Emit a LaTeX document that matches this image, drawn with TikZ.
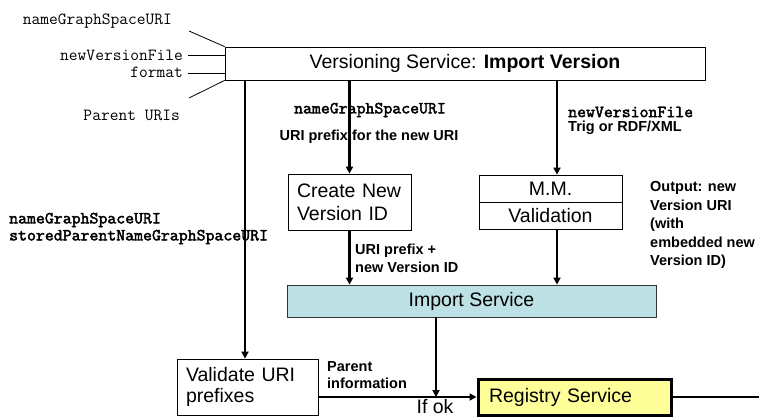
\documentclass[tikz,border=0pt]{standalone}
\usepackage{fontspec}
\setmainfont{Liberation Sans}
\newfontfamily\monoheavy{lmmono10-regular.otf}[FakeBold=2.2]
\usetikzlibrary{arrows.meta,calc}

\definecolor{importfill}{HTML}{BDE1E4}
\definecolor{regfill}{HTML}{FFFF99}

% font sizes (1 unit = 1bp)
\newcommand\mainsize{\fontsize{19.5bp}{23bp}\selectfont}
\newcommand\lblsize{\fontsize{14.5bp}{18bp}\selectfont\bfseries}
\newcommand\monosize{\fontsize{17bp}{17bp}\selectfont\ttfamily}
\newcommand\bmonosize{\fontsize{17bp}{17bp}\selectfont\monoheavy}

\tikzset{
  box/.style={draw=black, line width=0.8bp, inner sep=0pt, font=\mainsize},
  arr/.style={line width=2.6bp, -{Triangle[width=7bp,length=7bp]}},
  flow/.style={line width=2.6bp},
  feed/.style={line width=0.8bp},
  lbl/.style={inner sep=0pt, font=\lblsize, align=left},
  mono/.style={inner sep=0pt, font=\monosize, align=left},
  bmono/.style={inner sep=0pt, font=\bmonosize, align=left},
  plain/.style={inner sep=0pt, font=\mainsize},
}

\begin{document}
\begin{tikzpicture}[x=1bp,y=-1bp]
\useasboundingbox (0,0) rectangle (759,419);

% ---- boxes ----
\node[box, minimum width=480bp, minimum height=33bp] (top) at (465,63.5)
  {Versioning Service: \textbf{Import Version}};

\node[box, minimum height=56bp, text width=105bp, inner xsep=9bp, align=left,
      font=\fontsize{19.5bp}{23bp}\selectfont] (cr) at (349.5,202)
  {Create New\\Version ID};

\node[box, minimum width=143bp, minimum height=27bp] (mm) at (550.5,188.5) {M.M.};
\node[box, minimum width=143bp, minimum height=27bp] (val) at (550.5,215.5) {Validation};

\node[box, draw=black!80, fill=importfill, minimum width=369bp, minimum height=32bp]
  (imp) at (471.5,301) {Import Service};

\node[box, minimum height=56bp, text width=123bp, inner xsep=9bp, align=left,
      font=\fontsize{19.5bp}{21bp}\selectfont] (va) at (247.5,387)
  {Validate URI\\prefixes};

\node[box, line width=3bp, fill=regfill, minimum height=36bp, text width=171bp,
      inner xsep=11bp, align=left] (reg) at (574.5,397) {Registry Service};

% ---- inputs of the versioning service ----
\node[mono, anchor=east] (inA) at (172,21) {nameGraphSpaceURI};
\node[mono, anchor=east] (inB) at (183,55) {newVersionFile};
\node[mono, anchor=east] (inC) at (183,72) {format};
\node[mono, anchor=east] (inD) at (180,115) {Parent URIs};

\coordinate (fA) at (189,31);
\coordinate (fB) at (188,55);
\coordinate (fC) at (188,73);
\coordinate (fD) at (189,98);
\draw[feed] (fA) -- (top.north west);
\draw[feed] (fB) -- (fB -| top.west);
\draw[feed] (fC) -- (fC -| top.west);
\draw[feed] (fD) -- (top.south west);

% ---- flow columns ----
\coordinate (xl) at (245,0);
\coordinate (xr) at (557,0);
\coordinate (xj) at (436,0);
\coordinate (edge) at (759,397);

\draw[arr] (xl |- top.south) -- (xl |- va.north);
\draw[arr] (cr.north |- top.south) -- (cr.north);
\draw[arr] (xr |- top.south) -- (xr |- mm.north);
\draw[arr] (cr.south) -- (cr.south |- imp.north);
\draw[arr] (xr |- val.south) -- (xr |- imp.north);
\draw[arr] (xj |- imp.south) -- (xj |- reg.west);
\draw[arr] (va.east |- reg.west) -- (reg.west);
\draw[flow] (reg.east) -- (edge);

% ---- labels on the flows ----
\node[bmono] (l1) at (370,110) {nameGraphSpaceURI};
\node[lbl] (l2) at (369,137) {URI prefix for the new URI};
\node[bmono, anchor=west] (l3) at (568,112) {newVersionFile};
\node[lbl, anchor=west] (l4) at (568,128) {Trig or RDF/XML};
\node[lbl, anchor=west, font=\fontsize{14.5bp}{18.5bp}\selectfont\bfseries] (l5) at (650,225)
  {Output: new\\Version URI\\(with\\embedded new\\Version ID)};
\node[lbl, anchor=west] (l6) at (355,258) {URI prefix +\\new Version ID};
\node[bmono, anchor=west] (l7) at (9,228.5)
  {nameGraphSpaceURI\\storedParentNameGraphSpaceURI};
\node[lbl, anchor=west, font=\fontsize{14.5bp}{17bp}\selectfont\bfseries] (l8) at (327,375.5)
  {Parent\\information};
\node[plain] (l9) at (435,407) {If ok};
\end{tikzpicture}
\end{document}
